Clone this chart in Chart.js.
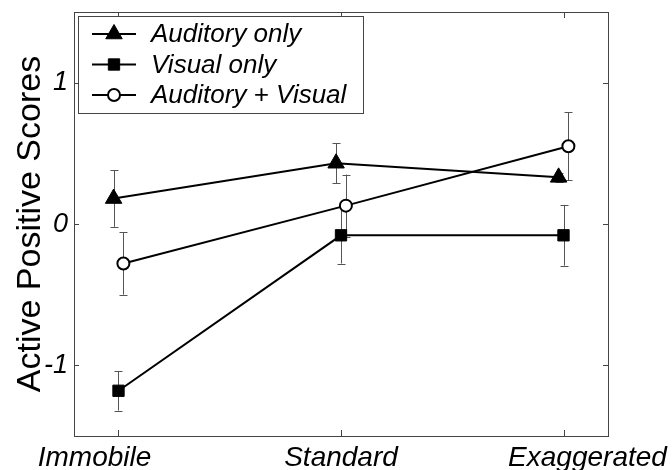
<!DOCTYPE html>
<html>
<head>
<meta charset="utf-8">
<script src="https://cdn.jsdelivr.net/npm/chart.js@4/dist/chart.umd.min.js"></script>
<style>
  body { margin: 0; background: #fff; }
  #wrap { width: 672px; height: 470px; }
</style>
</head>
<body>
<div id="wrap"><canvas id="scoreCanvas" width="672" height="470"></canvas></div>
<script>
// Conditions on the x axis
const conditions = ['Immobile', 'Standard', 'Exaggerated'];
const yTicks = [-1, 0, 1];

// Mean scores and error half-widths
const auditoryOnly = [0.18, 0.43, 0.33];
const auditoryOnlyErr = [0.20, 0.14, 0.03];
const visualOnly = [-1.18, -0.08, -0.08];
const visualOnlyErr = [0.14, 0.20, 0.215];
const auditoryVisual = [-0.28, 0.13, 0.55];
const auditoryVisualErr = [0.22, 0.22, 0.24];

// the series are nudged sideways a little so the error bars don't overlap
function points(values, shift) {
  return values.map((v, i) => ({ x: i + 1 + shift, y: v }));
}

const FONT = "'Liberation Sans', Arial, sans-serif";
const AXIS_COLOR = '#444';

const seriesList = [
  { label: 'Auditory only', values: auditoryOnly, err: auditoryOnlyErr, shift: -0.022,
    style: 'triangle', radius: 9.5, fill: '#000' },
  { label: 'Visual only', values: visualOnly, err: visualOnlyErr, shift: 0,
    style: 'rect', radius: 8, fill: '#000' },
  { label: 'Auditory + Visual', values: auditoryVisual, err: auditoryVisualErr, shift: 0.022,
    style: 'circle', radius: 6, fill: '#fff' }
];

function drawMarker(ctx, style, x, y, r, fill) {
  ctx.save();
  ctx.fillStyle = fill;
  ctx.strokeStyle = '#000';
  ctx.lineWidth = style === 'circle' ? 2 : 1;
  ctx.beginPath();
  if (style === 'triangle') {
    ctx.moveTo(x, y - r);
    ctx.lineTo(x + r * Math.sin(Math.PI * 2 / 3), y - r * Math.cos(Math.PI * 2 / 3));
    ctx.lineTo(x + r * Math.sin(Math.PI * 4 / 3), y - r * Math.cos(Math.PI * 4 / 3));
    ctx.closePath();
  } else if (style === 'rect') {
    const s = r / Math.SQRT2;
    ctx.rect(x - s, y - s, 2 * s, 2 * s);
  } else {
    ctx.arc(x, y, r, 0, Math.PI * 2);
  }
  ctx.fill();
  ctx.stroke();
  ctx.restore();
}

// error bars go under the markers
const errorBarPlugin = {
  id: 'errorBars',
  beforeDatasetsDraw(chart) {
    const ctx = chart.ctx;
    const yScale = chart.scales.y;
    ctx.save();
    ctx.strokeStyle = '#555';
    ctx.lineWidth = 1;
    seriesList.forEach((s, di) => {
      const meta = chart.getDatasetMeta(di);
      meta.data.forEach((pt, i) => {
        const x = Math.round(pt.x) + 0.5;
        const top = yScale.getPixelForValue(s.values[i] + s.err[i]);
        const bot = yScale.getPixelForValue(s.values[i] - s.err[i]);
        ctx.beginPath();
        ctx.moveTo(x, top); ctx.lineTo(x, bot);
        ctx.moveTo(x - 4, Math.round(top) + 0.5); ctx.lineTo(x + 4, Math.round(top) + 0.5);
        ctx.moveTo(x - 4, Math.round(bot) + 0.5); ctx.lineTo(x + 4, Math.round(bot) + 0.5);
        ctx.stroke();
      });
    });
    ctx.restore();
  }
};

// box, inward ticks, x labels and the legend
const framePlugin = {
  id: 'frame',
  afterDraw(chart) {
    const ctx = chart.ctx;
    const a = chart.chartArea;
    const xs = chart.scales.x, ys = chart.scales.y;
    ctx.save();
    ctx.strokeStyle = AXIS_COLOR;
    ctx.lineWidth = 1;
    ctx.strokeRect(Math.round(a.left) + 0.5, Math.round(a.top) + 0.5,
      Math.round(a.right - a.left), Math.round(a.bottom - a.top));
    ctx.beginPath();
    yTicks.forEach(v => {
      const y = Math.round(ys.getPixelForValue(v)) + 0.5;
      ctx.moveTo(a.left, y); ctx.lineTo(a.left + 5, y);
      ctx.moveTo(a.right, y); ctx.lineTo(a.right - 5, y);
    });
    conditions.forEach((c, i) => {
      const x = Math.round(xs.getPixelForValue(i + 1)) + 0.5;
      ctx.moveTo(x, a.bottom); ctx.lineTo(x, a.bottom - 6);
      ctx.moveTo(x, a.top); ctx.lineTo(x, a.top + 6);
    });
    ctx.stroke();

    // category labels
    const labelShift = [-24, 0, 24];
    ctx.fillStyle = '#000';
    ctx.font = 'italic 28px ' + FONT;
    ctx.textAlign = 'center';
    ctx.textBaseline = 'alphabetic';
    conditions.forEach((c, i) => {
      ctx.fillText(c, xs.getPixelForValue(i + 1) + labelShift[i], 466);
    });

    // legend
    const lx = a.left + 4, ly = a.top + 4;
    ctx.fillStyle = '#fff';
    ctx.fillRect(lx + 0.5, ly + 0.5, 285, 97);
    ctx.strokeStyle = AXIS_COLOR;
    ctx.strokeRect(lx + 0.5, ly + 0.5, 285, 97);
    seriesList.forEach((s, i) => {
      const y = ly + 18 + i * 30.5;
      ctx.strokeStyle = '#000';
      ctx.lineWidth = 2;
      ctx.beginPath();
      ctx.moveTo(lx + 14, y); ctx.lineTo(lx + 58, y);
      ctx.stroke();
      drawMarker(ctx, s.style, lx + 36, y, s.radius, s.fill);
      ctx.fillStyle = '#000';
      ctx.font = 'italic 26px ' + FONT;
      ctx.textAlign = 'left';
      ctx.textBaseline = 'middle';
      ctx.fillText(s.label, lx + 73, y + 1);
    });
    ctx.restore();
  }
};

const scoreChart = new Chart(document.getElementById('scoreCanvas'), {
  type: 'line',
  data: {
    datasets: seriesList.map(s => ({
      label: s.label,
      data: points(s.values, s.shift),
      borderColor: '#000',
      borderWidth: 2,
      tension: 0,
      pointStyle: s.style,
      pointRadius: s.radius,
      pointBackgroundColor: s.fill,
      pointBorderColor: '#000',
      pointBorderWidth: s.style === 'circle' ? 2 : 1
    }))
  },
  options: {
    responsive: false,
    animation: false,
    layout: { padding: { top: 12, right: 64, left: 0, bottom: 0 } },
    plugins: {
      legend: { display: false },
      tooltip: { enabled: false }
    },
    scales: {
      x: {
        type: 'linear',
        min: 0.8,
        max: 3.2,
        grid: { display: false, drawTicks: false },
        border: { display: false },
        ticks: { display: false },
        afterFit(scale) {
          scale.height = 34;
          scale.paddingLeft = 0;
          scale.paddingRight = 0;
        }
      },
      y: {
        min: -1.5,
        max: 1.5,
        grid: { display: false, drawTicks: false },
        border: { display: false },
        afterBuildTicks(scale) { scale.ticks = yTicks.map(v => ({ value: v })); },
        ticks: {
          color: '#000',
          padding: 6,
          font: { size: 27, style: 'italic', family: FONT }
        },
        title: {
          display: true,
          text: 'Active Positive Scores',
          color: '#000',
          padding: { top: 10, bottom: 0 },
          font: { size: 34, family: FONT }
        },
        afterFit(scale) {
          scale.width = 74;
          scale.paddingTop = 0;
          scale.paddingBottom = 0;
        }
      }
    }
  },
  plugins: [errorBarPlugin, framePlugin]
});
</script>
</body>
</html>
